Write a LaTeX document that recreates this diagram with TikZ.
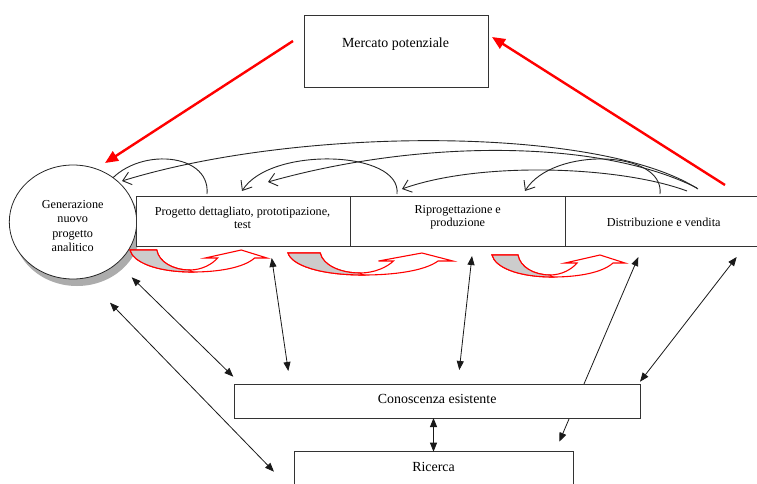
\documentclass[tikz,border=0pt]{standalone}
\usepackage{fontspec}
\setmainfont{Liberation Serif}
\usetikzlibrary{arrows.meta,shapes.geometric}
\begin{document}
\begin{tikzpicture}[x=1pt,y=-1pt,
  boxstyle/.style={draw=black!80, line width=0.8pt, fill=white, inner sep=0pt, outer sep=0pt},
  smalltxt/.style={font=\fontsize{12.2}{13}\selectfont, align=center, inner sep=0pt},
  bigtxt/.style={font=\fontsize{13.9}{16}\selectfont, inner sep=0pt},
  dbl/.style={{Triangle[length=9pt,width=7pt]}-{Triangle[length=9pt,width=7pt]}, line width=0.8pt, draw=black!90},
  redarr/.style={-{Triangle[length=13pt,width=11pt]}, line width=2.4pt, draw=red},
  backarc/.style={-{Straight Barb[length=8pt,width=13pt]}, line width=0.9pt, draw=black!85},
  pics/curvarrow/.style={code={
    \filldraw[draw=red, line width=1.1pt, fill=white, line join=miter]
      (0,0) -- (26,0) .. controls (28,12) and (42,20) .. (58,20)
      .. controls (70,20) and (80,14) .. (85,8) -- (73,8) -- (108,0) -- (133,8) -- (121,8)
      .. controls (110,18) and (85,22) .. (61,22)
      .. controls (25,22) and (3,12) .. (0,0) -- cycle;
    \filldraw[draw=red, line width=1.1pt, fill=gray!40]
      (0,0) -- (26,0) .. controls (28,12) and (42,20) .. (58,20) -- (61,22)
      .. controls (25,22) and (3,12) .. (0,0) -- cycle;
  }}
]
\useasboundingbox (0,0) rectangle (757,484);
\fill[white] (0,0) rectangle (757,484);
\clip (0,0) rectangle (757,484);

% Mercato potenziale
\node[boxstyle, minimum width=184pt, minimum height=72pt] (mer) at (396,51) {};
\node[bigtxt] (mertxt) at (395.5,44) {Mercato potenziale};

% feedback arcs
\coordinate (a1) at (207,194); \coordinate (a2) at (103,191);
\coordinate (c1) at (397,194); \coordinate (c2) at (242,191);
\coordinate (f1) at (660,194); \coordinate (f2) at (525,191);
\coordinate (b1) at (698,189); \coordinate (b2) at (122,181);
\coordinate (d1) at (697,188); \coordinate (d2) at (268,182);
\coordinate (e1) at (687,191); \coordinate (e2) at (402,189);
\draw[backarc] (b1) .. controls (600,126) and (300,126) .. (b2);
\draw[backarc] (d1) .. controls (600,139) and (420,139) .. (d2);
\draw[backarc] (e1) .. controls (620,166) and (480,161) .. (e2);
\draw[backarc] (a1) .. controls (211,150) and (128,146) .. (a2);
\draw[backarc] (c1) .. controls (402,150) and (270,146) .. (c2);
\draw[backarc] (f1) .. controls (665,150) and (553,146) .. (f2);

% circle
\fill[gray!65] (77,229) ellipse [x radius=63.7pt, y radius=57pt];
\node[ellipse, draw=black!85, line width=0.8pt, fill=white, minimum width=127.4pt, minimum height=114pt, inner sep=0pt] (gen) at (73,222) {};
\node[smalltxt, font=\fontsize{12.2}{14.3}\selectfont] (gentxt) at (72.7,226) {Generazione\\nuovo\\progetto\\analitico};

% process row
\node[boxstyle, minimum width=214pt, minimum height=50pt] (p1) at (243,221) {};
\node[boxstyle, minimum width=215pt, minimum height=50pt] (p2) at (457.5,221) {};
\node[boxstyle, minimum width=198pt, minimum height=50pt] (p3) at (664,221) {};
\node[smalltxt] (p1txt) at (242.5,217.5) {Progetto dettagliato, prototipazione,\\test};
\node[smalltxt] (p2txt) at (457.7,217) {Riprogettazione e\\produzione};
\node[smalltxt] (p3txt) at (663.7,222.7) {Distribuzione e vendita};

% red curved arrows
\pic[xscale=1.03] at (130,250) {curvarrow};
\pic[xscale=1.24] at (288,253) {curvarrow};
\pic at (492,255) {curvarrow};

% red arrows
\coordinate (r1s) at (293,41); \coordinate (r1e) at (105,163);
\coordinate (r2s) at (725,185); \coordinate (r2e) at (492,37);
\draw[redarr] (r1s) -- (r1e);
\draw[redarr] (r2s) -- (r2e);

% arrow passing behind Conoscenza box
\coordinate (e3a) at (638.3,257); \coordinate (e3b) at (559.3,441.7);
\draw[dbl] (e3b) -- (e3a);

% Conoscenza esistente and Ricerca
\node[boxstyle, minimum width=406pt, minimum height=34pt] (con) at (437,401) {};
\node[bigtxt] (contxt) at (437.2,399) {Conoscenza esistente};
\node[boxstyle, minimum width=279pt, minimum height=60pt] (ric) at (433.5,481.7) {};
\node[bigtxt] (rictxt) at (433.5,467.3) {Ricerca};

% double arrows
\coordinate (ga) at (131.7,277.3); \coordinate (gb) at (233.3,376.7);
\coordinate (ha) at (110,302.7);   \coordinate (hb) at (274,471.7);
\coordinate (ia) at (271.7,258);   \coordinate (ib) at (288.3,371);
\coordinate (ja) at (472,256);     \coordinate (jb) at (459.3,370);
\coordinate (ka) at (736.7,257);   \coordinate (kb) at (640,381.7);
\draw[dbl] (ga) -- (gb);
\draw[dbl] (ha) -- (hb);
\draw[dbl] (ia) -- (ib);
\draw[dbl] (ja) -- (jb);
\draw[dbl] (ka) -- (kb);
\draw[dbl] (con.south -| ric.north) -- (ric.north);
\end{tikzpicture}
\end{document}
